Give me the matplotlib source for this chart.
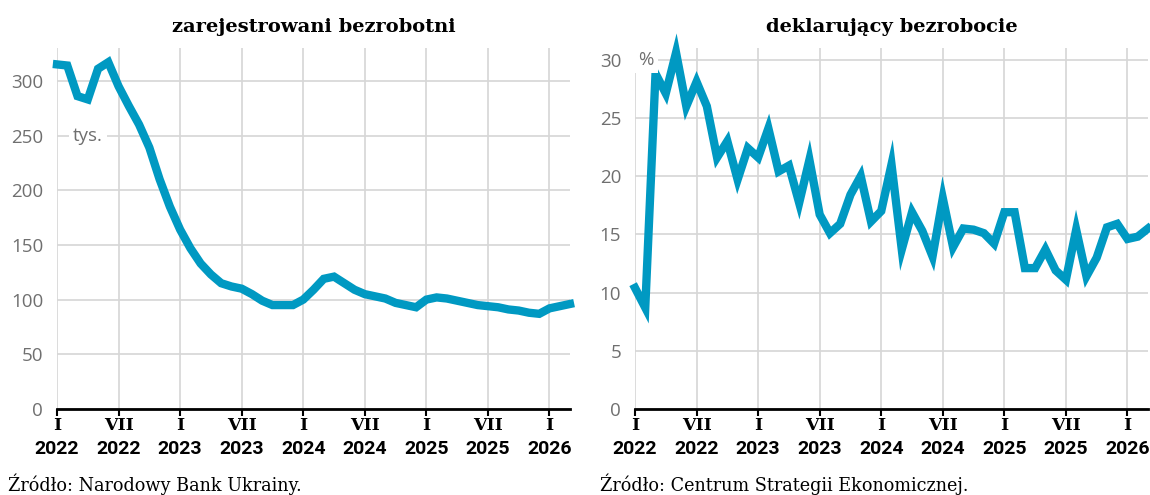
import matplotlib.pyplot as plt
import matplotlib.transforms as mtransforms

# months counted from I 2022 (0) to III 2026 (50)
months = list(range(51))

# registered unemployed, thousands (NBU)
registered = [315, 314, 286, 283, 311, 317, 295, 277, 260, 239,
              210, 185, 164, 147, 133, 123, 115, 112, 110, 105,
              99, 95, 95, 95, 100, 109, 119, 121, 115, 109,
              105, 103, 101, 97, 95, 93, 100, 102, 101, 99,
              97, 95, 94, 93, 91, 90, 88, 87, 92, 94,
              96]

# self-declared unemployment, % (CES)
declared = [10.4, 8.7, 28.8, 27.1, 30.6, 26.0, 28.1, 26.0, 21.6, 23.0,
            19.7, 22.4, 21.6, 24.1, 20.4, 20.9, 17.7, 21.4, 16.7, 15.1,
            15.9, 18.4, 20.0, 16.1, 17.0, 21.0, 13.7, 16.9, 15.3, 13.1,
            18.1, 13.9, 15.5, 15.4, 15.1, 14.2, 16.9, 16.9, 12.1, 12.1,
            13.7, 11.9, 11.1, 15.4, 11.4, 13.0, 15.6, 15.9, 14.6, 14.8,
            15.5]

xticks = [0, 6, 12, 18, 24, 30, 36, 42, 48]
roman = ["I", "VII", "I", "VII", "I", "VII", "I", "VII", "I"]
years = ["2022", "2022", "2023", "2023", "2024", "2024", "2025", "2025", "2026"]

LINE = "#0099c2"
GRID = "#d6d6d6"
GRAY = "#6f6f6f"

fig = plt.figure(figsize=(11.5, 4.95), dpi=100)

W, H = 1150, 495
ax1 = fig.add_axes([57/W, (H-409)/H, 513/W, 361/H])
ax2 = fig.add_axes([635/W, (H-409)/H, 513/W, 361/H])

def style(ax, yticks, ymax):
	ax.set_xlim(0, 50)
	ax.set_ylim(0, ymax)
	ax.set_yticks(yticks)
	ax.set_xticks(xticks)
	ax.set_axisbelow(True)
	ax.grid(True, color=GRID, lw=1.2)
	for s in ["top", "right", "left"]:
		ax.spines[s].set_visible(False)
	ax.spines["bottom"].set_linewidth(2)
	ax.spines["bottom"].set_color("black")
	ax.tick_params(axis="y", length=0, pad=10, labelsize=13.5, labelcolor=GRAY)
	ax.tick_params(axis="x", length=5, width=1.5, color="black", labelbottom=False)
	for lab in ax.get_yticklabels():
		lab.set_family("Open Sans")
	# two-line x labels: roman month (serif) over year (sans)
	trans = mtransforms.blended_transform_factory(ax.transData, ax.transAxes)
	for x, r, yr in zip(xticks, roman, years):
		ax.text(x, -0.045, r, transform=trans, ha="center", va="center",
			family="DejaVu Serif", weight="bold", fontsize=12.5)
		ax.text(x, -0.11, yr, transform=trans, ha="center", va="center",
			family="Roboto", weight="bold", fontsize=14)

style(ax1, [0, 50, 100, 150, 200, 250, 300], 330)
style(ax2, [0, 5, 10, 15, 20, 25, 30], 31)

ax1.plot(months, registered, color=LINE, lw=6, solid_joinstyle="miter", clip_on=False, zorder=3)
ax2.plot(months, declared, color=LINE, lw=6, solid_joinstyle="miter", clip_on=False, zorder=3)

ax1.text(1.55, 250, "tys.", ha="left", va="center", color=GRAY, fontsize=13.5, family="Open Sans",
	bbox=dict(facecolor="white", edgecolor="none", pad=3), zorder=2)
ax2.text(0.35, 30, "%", ha="left", va="center", color=GRAY, fontsize=13.5, family="Open Sans",
	bbox=dict(facecolor="white", edgecolor="none", pad=3), zorder=4)

fig.text((57+570)/2/W, 1-27/H, "zarejestrowani bezrobotni", ha="center", va="center",
	family="DejaVu Serif", weight="bold", fontsize=14)
fig.text((635+1148)/2/W, 1-27/H, "deklarujący bezrobocie", ha="center", va="center",
	family="DejaVu Serif", weight="bold", fontsize=14)

fig.text(8/W, 1-484/H, "Źródło: Narodowy Bank Ukrainy.", ha="left", va="center",
	family="DejaVu Serif", fontsize=12.7)
fig.text(600/W, 1-484/H, "Źródło: Centrum Strategii Ekonomicznej.", ha="left", va="center",
	family="DejaVu Serif", fontsize=12.7)

fig.savefig("out.png", dpi=100, facecolor="white")
